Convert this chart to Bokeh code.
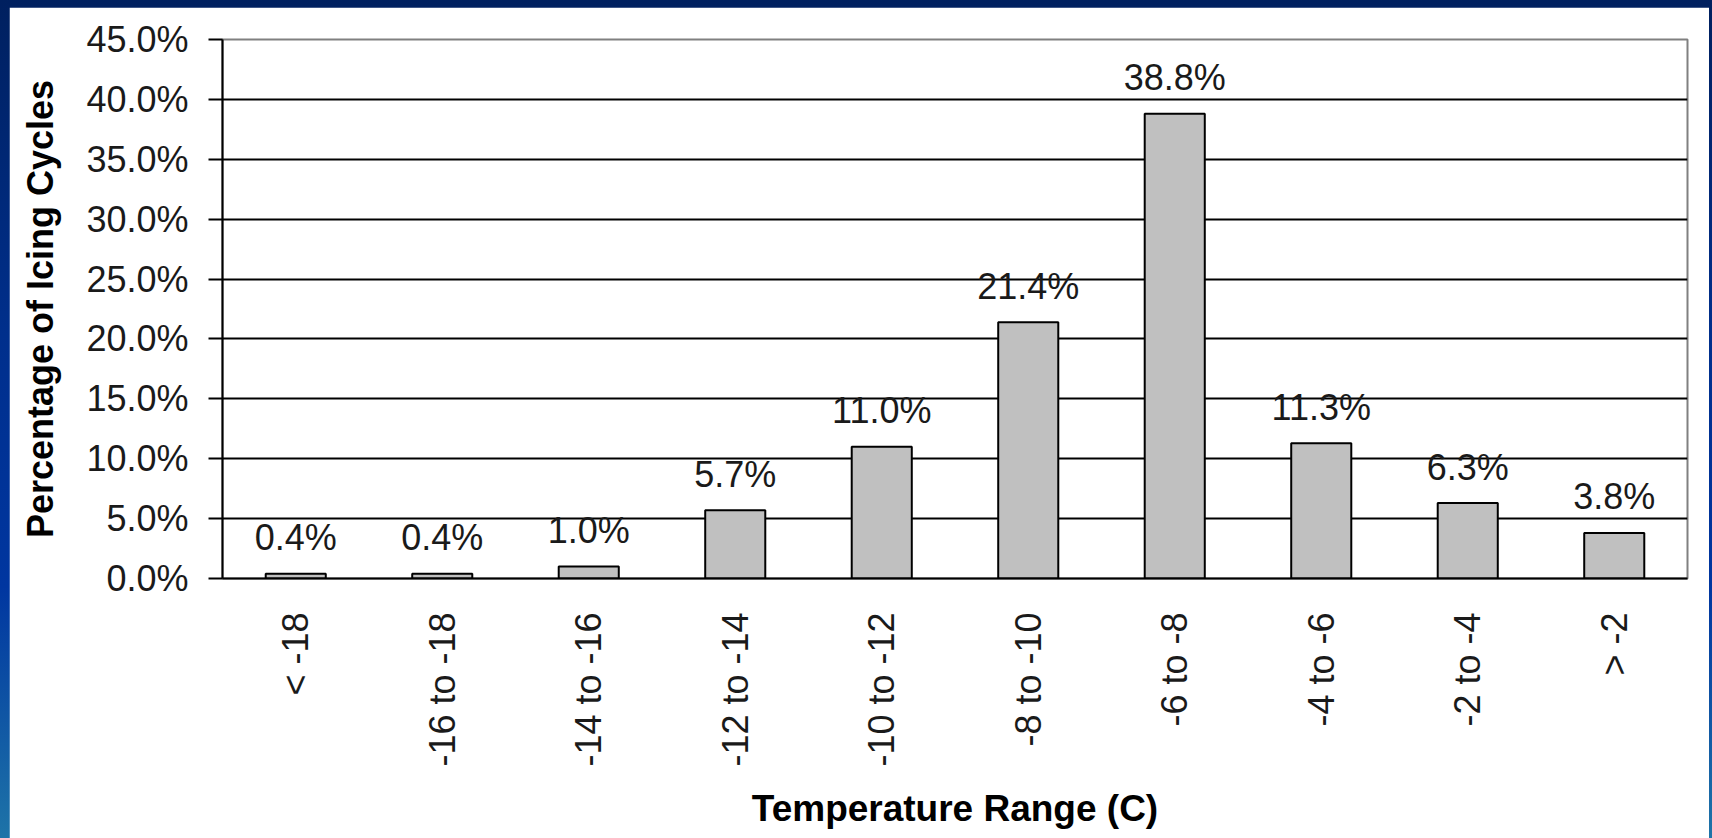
import math

from bokeh.plotting import figure
from bokeh.layouts import column
from bokeh.models import (ColumnDataSource, FactorRange, FixedTicker,
                          PrintfTickFormatter)
from bokeh.core.properties import value
from bokeh.embed import file_html
from bokeh.resources import INLINE

# Share of icing cycles per temperature band (degrees C)
categories = ["< -18", "-16 to -18", "-14 to -16", "-12 to -14", "-10 to -12",
              "-8 to -10", "-6 to -8", "-4 to -6", "-2 to -4", "> -2"]
percentages = [0.4, 0.4, 1.0, 5.7, 11.0, 21.4, 38.8, 11.3, 6.3, 3.8]
y_ticks = [0, 5, 10, 15, 20, 25, 30, 35, 40, 45]

FONT = "Liberation Sans"

source = ColumnDataSource(data=dict(
    cat=categories,
    pct=percentages,
    label=["{:.1f}%".format(v) for v in percentages],
))

p = figure(
    x_range=FactorRange(factors=categories),
    y_range=(0, 45),
    width=1700, height=831,
    output_backend="svg", toolbar_location=None,
    min_border_left=213, min_border_right=22,
    min_border_top=32, min_border_bottom=260,
    background_fill_color="white", border_fill_color="white",
    outline_line_color="#808080", outline_line_width=2,
)

p.vbar(x="cat", top="pct", width=0.41, source=source,
       fill_color="#c0c0c0", line_color="black", line_width=2)

p.text(x="cat", y="pct", text="label", source=source,
       text_font=value(FONT), text_font_size="36px", text_color="#1a1a1a",
       text_align="center", text_baseline="alphabetic", y_offset=-36)

# y axis: percent ticks every 5
p.yaxis.ticker = FixedTicker(ticks=y_ticks)
p.yaxis.formatter = PrintfTickFormatter(format="%.1f%%")
p.yaxis.major_label_text_font = FONT
p.yaxis.major_label_text_font_size = "36px"
p.yaxis.major_label_text_color = "#1a1a1a"
p.yaxis.major_label_standoff = 20
p.yaxis.major_tick_out = 14
p.yaxis.major_tick_in = 0
p.yaxis.major_tick_line_width = 2
p.yaxis.minor_tick_line_color = None
p.yaxis.axis_line_width = 2
p.yaxis.axis_line_color = "black"
p.yaxis.axis_label = "Percentage of Icing Cycles"
p.yaxis.axis_label_text_font = FONT
p.yaxis.axis_label_text_font_style = "bold"
p.yaxis.axis_label_text_font_size = "36px"
p.yaxis.axis_label_text_color = "black"
p.yaxis.axis_label_standoff = 22

# x axis: category labels turned to read upwards
p.xaxis.major_label_orientation = math.pi / 2
p.xaxis.major_label_text_font = FONT
p.xaxis.major_label_text_font_size = "36px"
p.xaxis.major_label_text_color = "#1a1a1a"
p.xaxis.major_label_standoff = 28
p.xaxis.major_tick_line_color = None
p.xaxis.minor_tick_line_color = None
p.xaxis.axis_line_width = 2
p.xaxis.axis_line_color = "black"
p.xaxis.axis_label = "Temperature Range (C)"
p.xaxis.axis_label_text_font = FONT
p.xaxis.axis_label_text_font_style = "bold"
p.xaxis.axis_label_text_font_size = "37px"
p.xaxis.axis_label_text_color = "black"
p.xaxis.axis_label_standoff = 18

# horizontal gridlines, black, without the top edge
p.xgrid.grid_line_color = None
p.ygrid.ticker = FixedTicker(ticks=y_ticks[1:-1])
p.ygrid.grid_line_color = "black"
p.ygrid.grid_line_width = 2

page = column(p, styles={
    "background": "linear-gradient(to bottom, #00205f 0%, #002f8c 40%, "
                  "#0036a0 70%, #1e74a8 100%)",
    "padding": "7px 3px 0px 9px",
})

open("out.html", "w").write(file_html(page, INLINE))
